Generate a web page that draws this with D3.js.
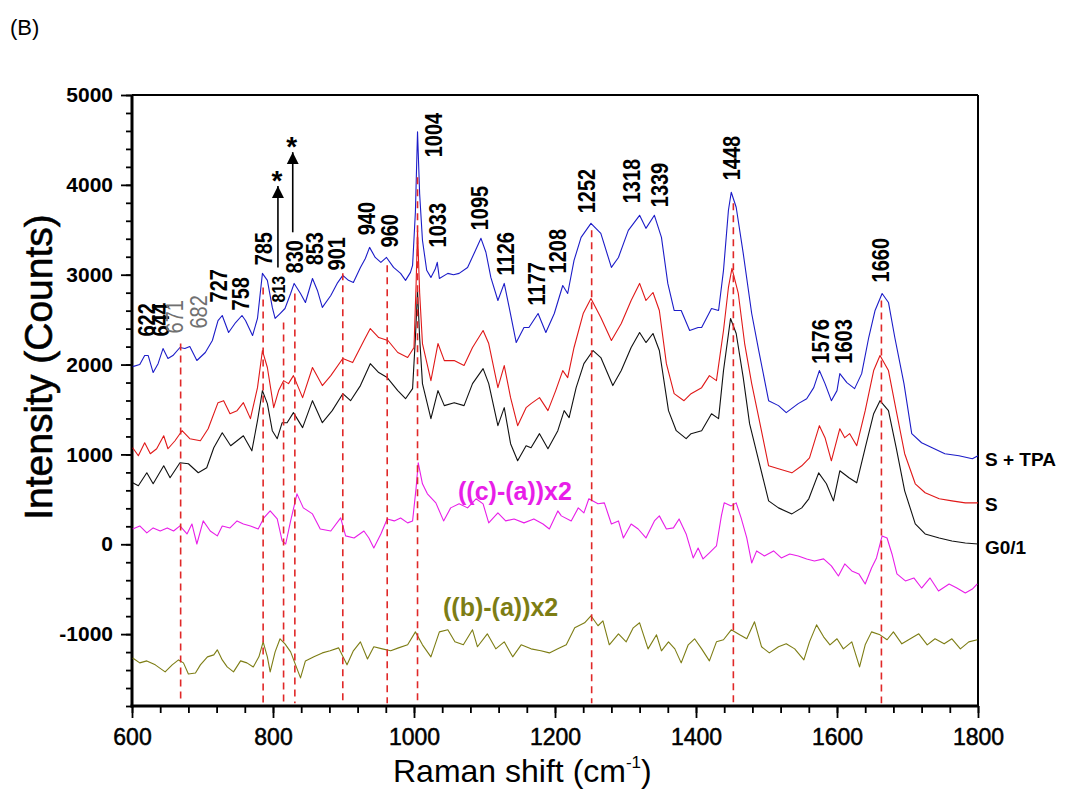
<!DOCTYPE html>
<html lang="en">
<head>
<meta charset="UTF-8">
<title>Raman spectra (B)</title>
<script src="https://d3js.org/d3.v7.min.js"></script>
<style>
  body { margin: 0; background: #fff; }
  svg { font-family: "Liberation Sans", Arial, sans-serif; }
  .frame { stroke: #000; fill: none; }
  .axis path, .axis line { stroke: #000; }
  .axis text { font-size: 21px; font-weight: bold; fill: #000; }
  .spec { fill: none; stroke-width: 1.1px; stroke-linejoin: round; }
  .guide { stroke: #e02828; stroke-width: 1.6px; stroke-dasharray: 7,5; }
  .peak { font-size: 20px; font-weight: bold; fill: #000; }
</style>
</head>
<body>
<svg width="1072" height="791"></svg>
<script>
// ---- data: [Raman shift (cm-1), intensity (counts)] ----
const specSTPA = [[601,1977],[611,2000],[618,2100],[623,2100],[630,1911],[637,2010],[644,2178],[651,2067],[658,2100],[668,2190],[675,2178],[682,2200],[692,2045],[704,2134],[714,2268],[722,2490],[728,2546],[737,2357],[747,2468],[756,2546],[761,2490],[771,2323],[778,2513],[785,3015],[792,2937],[799,2636],[803,2513],[810,2568],[817,2624],[825,2791],[830,2903],[839,2791],[846,2691],[856,2958],[863,2825],[870,2636],[882,2769],[891,2903],[899,2992],[907,2937],[914,2914],[924,3081],[931,3181],[937,3304],[945,3192],[953,3137],[961,3192],[971,3081],[981,3015],[988,2937],[995,3026],[998,3104],[1002,3700],[1005,4590],[1008,3900],[1012,3383],[1018,3050],[1024,2970],[1030,3060],[1033,3137],[1036,2958],[1048,3015],[1056,3000],[1064,3015],[1076,3081],[1086,3250],[1095,3405],[1102,3250],[1109,2970],[1119,2713],[1128,2903],[1135,2636],[1145,2245],[1156,2413],[1163,2413],[1176,2568],[1187,2357],[1199,2568],[1211,2880],[1218,2791],[1227,3159],[1237,3416],[1251,3572],[1265,3460],[1280,3081],[1290,3192],[1304,3494],[1320,3661],[1329,3516],[1341,3661],[1351,3416],[1360,2903],[1369,2602],[1379,2602],[1391,2379],[1403,2413],[1408,2413],[1422,2624],[1432,2602],[1439,3048],[1446,3717],[1450,3918],[1457,3751],[1467,3237],[1479,2568],[1489,2156],[1503,1598],[1517,1543],[1528,1465],[1545,1565],[1557,1620],[1567,1743],[1575,1933],[1583,1788],[1592,1598],[1600,1710],[1604,1899],[1614,1799],[1625,1732],[1635,1899],[1645,2301],[1654,2602],[1664,2791],[1673,2691],[1682,2301],[1695,1788],[1706,1231],[1720,1130],[1735,1074],[1753,1008],[1773,985],[1792,951],[1800,985]];

const specS = [[601,1074],[609,985],[618,1130],[626,1008],[635,1063],[645,1208],[651,1063],[661,1152],[671,1264],[682,1175],[697,1152],[708,1286],[722,1576],[730,1598],[739,1453],[749,1487],[758,1576],[768,1398],[778,1743],[785,2156],[792,1967],[801,1520],[808,1710],[815,1821],[822,1788],[829,1877],[842,1632],[856,1967],[870,1766],[882,1877],[899,2067],[913,2022],[929,2268],[938,2401],[950,2301],[963,2268],[977,2134],[991,2078],[1000,2190],[1003,2900],[1005,3494],[1008,2800],[1012,2234],[1024,1821],[1034,2234],[1043,2044],[1057,2044],[1071,1989],[1083,2190],[1098,2379],[1106,2234],[1119,1743],[1128,1989],[1137,1632],[1147,1320],[1159,1520],[1166,1565],[1178,1632],[1190,1487],[1201,1710],[1211,1933],[1218,1855],[1227,2190],[1240,2568],[1251,2735],[1265,2524],[1280,2268],[1294,2457],[1308,2713],[1320,2903],[1329,2713],[1339,2802],[1348,2602],[1358,2010],[1369,1676],[1383,1598],[1393,1676],[1408,1743],[1419,1877],[1429,1821],[1439,2379],[1446,2858],[1451,3070],[1460,2791],[1469,2234],[1479,1788],[1489,1409],[1503,873],[1517,840],[1536,795],[1550,873],[1561,962],[1575,1320],[1583,1186],[1592,929],[1604,1286],[1611,1186],[1618,1231],[1628,1097],[1640,1487],[1652,1933],[1661,2100],[1673,1933],[1684,1487],[1696,1008],[1711,673],[1725,573],[1745,506],[1763,483],[1782,461],[1800,461]];

const specG01 = [[601,684],[609,651],[621,796],[630,673],[645,874],[654,740],[668,907],[680,896],[694,796],[706,851],[716,1074],[728,1241],[740,1097],[749,1152],[758,1208],[770,1040],[778,1375],[785,1710],[792,1565],[799,1264],[806,1175],[813,1353],[820,1353],[829,1465],[842,1298],[856,1598],[870,1353],[884,1487],[899,1676],[910,1598],[924,1766],[938,2010],[950,1911],[962,1855],[977,1710],[988,1620],[998,1732],[1002,2300],[1005,2824],[1008,2300],[1012,1788],[1024,1398],[1034,1710],[1043,1543],[1057,1576],[1071,1543],[1083,1788],[1098,1955],[1106,1788],[1119,1320],[1128,1520],[1137,1119],[1147,929],[1159,1097],[1166,1074],[1178,1231],[1190,1063],[1204,1264],[1213,1487],[1220,1409],[1230,1743],[1241,2010],[1254,2156],[1265,2078],[1282,1766],[1294,1933],[1308,2190],[1320,2357],[1329,2245],[1339,2346],[1348,2156],[1361,1487],[1372,1264],[1386,1175],[1393,1231],[1408,1264],[1422,1453],[1432,1398],[1439,1933],[1449,2513],[1457,2346],[1467,1855],[1476,1342],[1489,929],[1503,483],[1517,405],[1536,338],[1550,405],[1560,506],[1574,795],[1585,673],[1595,483],[1604,818],[1617,740],[1628,684],[1640,1074],[1652,1453],[1661,1598],[1673,1487],[1684,1074],[1696,595],[1711,227],[1725,115],[1745,70],[1763,37],[1782,14],[1800,3]];

const specDiffCA = [[601,170],[611,204],[621,126],[630,182],[640,148],[650,182],[659,148],[668,204],[678,115],[685,226],[692,3],[701,260],[711,148],[721,93],[728,204],[739,182],[749,260],[758,226],[768,204],[779,170],[787,293],[796,371],[806,282],[813,37],[818,3],[825,260],[834,561],[843,405],[856,338],[867,170],[882,148],[896,293],[903,93],[915,70],[929,148],[936,70],[943,-41],[953,115],[962,282],[972,260],[981,293],[991,238],[998,260],[1003,628],[1006,907],[1012,673],[1019,561],[1031,461],[1042,260],[1052,405],[1064,450],[1076,405],[1088,506],[1098,450],[1106,238],[1119,349],[1130,260],[1142,282],[1156,238],[1170,282],[1183,226],[1192,170],[1204,371],[1209,316],[1223,260],[1233,405],[1241,349],[1248,506],[1261,450],[1270,461],[1280,226],[1290,260],[1297,70],[1308,226],[1318,170],[1329,70],[1341,260],[1348,316],[1358,170],[1368,182],[1376,282],[1386,115],[1396,-152],[1403,-41],[1410,-163],[1419,-96],[1429,-19],[1436,316],[1440,461],[1450,427],[1457,461],[1464,293],[1472,70],[1479,-208],[1486,-74],[1497,-130],[1510,-74],[1521,-152],[1533,-108],[1545,-130],[1557,-163],[1568,-186],[1581,-163],[1592,-241],[1602,-353],[1611,-219],[1621,-297],[1631,-330],[1640,-442],[1649,-264],[1656,-152],[1664,93],[1671,70],[1678,-108],[1685,-330],[1697,-408],[1709,-375],[1720,-487],[1732,-375],[1744,-520],[1759,-442],[1770,-487],[1782,-542],[1792,-498],[1799,-442]];

const specDiffBA = [[601,-1265],[611,-1320],[621,-1298],[633,-1342],[647,-1420],[657,-1342],[666,-1287],[673,-1320],[680,-1443],[690,-1432],[697,-1342],[707,-1253],[716,-1231],[721,-1175],[728,-1287],[735,-1365],[744,-1420],[754,-1298],[763,-1320],[772,-1365],[780,-1253],[786,-1086],[792,-1253],[796,-1420],[803,-1198],[810,-1052],[817,-1108],[825,-1198],[832,-1342],[839,-1487],[846,-1298],[858,-1253],[870,-1209],[881,-1186],[893,-1153],[905,-1342],[914,-1186],[924,-1086],[934,-1276],[943,-1141],[955,-1164],[967,-1186],[978,-1153],[991,-1119],[1002,-975],[1012,-1119],[1024,-1253],[1036,-975],[1048,-952],[1058,-1086],[1070,-1119],[1083,-952],[1090,-1141],[1104,-997],[1116,-1164],[1128,-1086],[1140,-1253],[1152,-1119],[1166,-1164],[1180,-1186],[1192,-1209],[1204,-1164],[1216,-1119],[1228,-930],[1242,-874],[1251,-796],[1261,-907],[1268,-852],[1277,-1119],[1290,-997],[1301,-1086],[1311,-930],[1320,-874],[1332,-1164],[1344,-1008],[1351,-1186],[1361,-1086],[1370,-1164],[1379,-1320],[1389,-1119],[1398,-1052],[1408,-1164],[1419,-1298],[1429,-1086],[1439,-1063],[1450,-952],[1462,-1008],[1472,-1052],[1483,-863],[1493,-1141],[1504,-1209],[1517,-1141],[1528,-1108],[1540,-1164],[1553,-1287],[1561,-1086],[1571,-897],[1581,-1030],[1590,-1119],[1600,-1052],[1609,-1164],[1621,-1086],[1632,-1365],[1640,-1119],[1649,-975],[1661,-1008],[1671,-1063],[1680,-975],[1692,-1108],[1704,-1052],[1716,-997],[1728,-1119],[1739,-1052],[1752,-1108],[1763,-1052],[1775,-1164],[1787,-1086],[1799,-1063]];

// band positions marked with dashed guides: [x, top of guide]
const guides = [[669,2234],[786,2858],[815,2468],[831,2791],[899,3015],[962,3104],[1005,4085],[1252,3494],[1453,3795],[1663,2714]];

// peak labels: [text, x, y at baseline start, grey?, small?]
const peakLabels = [
  ["622",621,2312,false,false],["644",640,2312,false,false],
  ["671",660,2346,true,false],["682",695,2401,true,false],
  ["727",722,2691,false,false],["758",754,2602,false,false],
  ["785",786,3104,false,false],["813",808,2691,false,true],
  ["830",830,3014,false,false],["853",859,3104,false,false],
  ["901",890,3048,false,false],["940",933,3438,false,false],
  ["960",965,3304,false,false],["1004",1027,4307,false,false],
  ["1033",1034,3304,false,false],["1095",1093,3494,false,false],
  ["1126",1130,2992,false,false],["1177",1174,2658,false,false],
  ["1208",1204,3014,false,false],["1252",1244,3683,false,false],
  ["1318",1308,3795,false,false],["1339",1348,3751,false,false],
  ["1448",1450,4051,false,false],["1576",1577,2010,false,false],
  ["1603",1609,2010,false,false],["1660",1661,2914,false,false]
];

// starred arrows: [x, y start, y tip]
const starArrows = [[807,3081,3987],[828,3472,4364]];

const seriesNames = ["S + TPA","S","G0/1"];
const diffNames = ["((c)-(a))x2","((b)-(a))x2"];

const yMajor = [-1000,0,1000,2000,3000,4000,5000];
const xMajor = [600,800,1000,1200,1400,1600,1800];

// ---- drawing ----
const svg = d3.select("svg");
const mLeft = 132, mRight = 978, mTop = 95, mBottom = 706;

const x = d3.scaleLinear().domain([600,1800]).range([mLeft,mRight]);
const y = d3.scaleLinear().domain([-1800,5000]).range([mBottom,mTop]);

svg.append("text").attr("x",10).attr("y",35)
   .style("font-size","22px").text("(B)");

// minor ticks
svg.append("g").attr("class","axis")
   .attr("transform",`translate(${mLeft},0)`)
   .call(d3.axisLeft(y).tickValues(d3.range(-1800,5001,200)).tickSize(6).tickFormat(""));
svg.append("g").attr("class","axis")
   .attr("transform",`translate(0,${mBottom})`)
   .call(d3.axisBottom(x).tickValues(d3.range(600,1801,40)).tickSize(7).tickFormat(""));

// major ticks + labels
const yAxis = svg.append("g").attr("class","axis")
   .attr("transform",`translate(${mLeft},0)`)
   .call(d3.axisLeft(y).tickValues(yMajor).tickSize(11).tickPadding(8).tickFormat(d => String(d)));
const xAxis = svg.append("g").attr("class","axis")
   .attr("transform",`translate(0,${mBottom})`)
   .call(d3.axisBottom(x).tickValues(xMajor).tickSize(12).tickPadding(11).tickFormat(d => String(d)));
svg.selectAll(".axis .domain").remove();
svg.selectAll(".axis line").attr("stroke-width",1.8);
xAxis.selectAll("text").style("font-weight","normal").style("font-size","23px")
     .style("stroke","#000").style("stroke-width","0.5px");
yAxis.selectAll("text").style("font-size","21px");

// frame
svg.append("line").attr("class","frame").attr("x1",mLeft).attr("x2",mRight).attr("y1",mTop).attr("y2",mTop).attr("stroke-width",2);
svg.append("line").attr("class","frame").attr("x1",mRight).attr("x2",mRight).attr("y1",mTop).attr("y2",mBottom).attr("stroke-width",2);
svg.append("line").attr("class","frame").attr("x1",mLeft).attr("x2",mLeft).attr("y1",mTop).attr("y2",mBottom+1.5).attr("stroke-width",3);
svg.append("line").attr("class","frame").attr("x1",mLeft-1.5).attr("x2",mRight).attr("y1",mBottom).attr("y2",mBottom).attr("stroke-width",3);

// spectra
const line = d3.line().x(d => x(d[0])).y(d => y(d[1]));
const spectra = [
  [specDiffBA, "#7d7d14"],
  [specDiffCA, "#e81ee8"],
  [specG01, "#111111"],
  [specS, "#e01818"],
  [specSTPA, "#1c1cc8"]
];
spectra.forEach(s => {
  svg.append("path").datum(s[0]).attr("class","spec").attr("stroke",s[1]).attr("d",line);
});

// dashed band guides
svg.selectAll(".guide").data(guides).enter().append("line")
   .attr("class","guide")
   .attr("x1",d => x(d[0])).attr("x2",d => x(d[0]))
   .attr("y1",d => y(d[1])).attr("y2",y(-1770));

// peak labels (rotated, slightly tall glyphs like the original)
svg.selectAll(".peak").data(peakLabels).enter().append("text")
   .attr("class","peak")
   .attr("transform",d => `translate(${x(d[1])},${y(d[2])}) rotate(-90) scale(1,1.18)`)
   .attr("dy","0.36em")
   .style("fill",d => d[3] ? "#707070" : "#000")
   .style("font-weight",d => d[3] ? "normal" : "bold")
   .style("font-size",d => d[4] ? "16px" : "20px")
   .text(d => d[0]);

// arrows with stars
const defs = svg.append("defs");
defs.append("marker").attr("id","tri").attr("viewBox","0 0 10 10")
    .attr("refX",10).attr("refY",5).attr("markerUnits","userSpaceOnUse")
    .attr("markerWidth",12).attr("markerHeight",13).attr("orient","auto")
    .append("path").attr("d","M0,0L10,5L0,10Z").attr("fill","#000");
starArrows.forEach(a => {
  svg.append("line").attr("x1",x(a[0])).attr("x2",x(a[0]))
     .attr("y1",y(a[1])).attr("y2",y(a[2]))
     .attr("stroke","#000").attr("stroke-width",1.6).attr("marker-end","url(#tri)");
  svg.append("text").attr("x",x(a[0]) - 1).attr("y",y(a[2]) + 4)
     .attr("text-anchor","middle").style("font-size","28px").style("font-weight","bold")
     .text("*");
});

// series names on the right
const nameY = [466,511,554];
seriesNames.forEach((n,i) => {
  svg.append("text").attr("x",mRight + 7).attr("y",nameY[i])
     .style("font-size","19px").style("font-weight","bold").text(n);
});

// difference spectra labels
svg.append("text").attr("x",458).attr("y",500)
   .style("font-size","25px").style("font-weight","bold").style("fill","#e81ee8").text(diffNames[0]);
svg.append("text").attr("x",443).attr("y",616)
   .style("font-size","25px").style("font-weight","bold").style("fill","#7d7d14").text(diffNames[1]);

// axis titles
const xt = svg.append("text").attr("x",393).attr("y",782).style("font-size","32px");
xt.append("tspan").text("Raman shift (cm");
xt.append("tspan").attr("dy",-14).style("font-size","17px").text("-1");
xt.append("tspan").attr("dy",14).text(")");

svg.append("text")
   .attr("transform","translate(52,367) rotate(-90)")
   .attr("text-anchor","middle")
   .style("font-size","39px").style("stroke","#000").style("stroke-width","0.6px")
   .text("Intensity (Counts)");
</script>
</body>
</html>
